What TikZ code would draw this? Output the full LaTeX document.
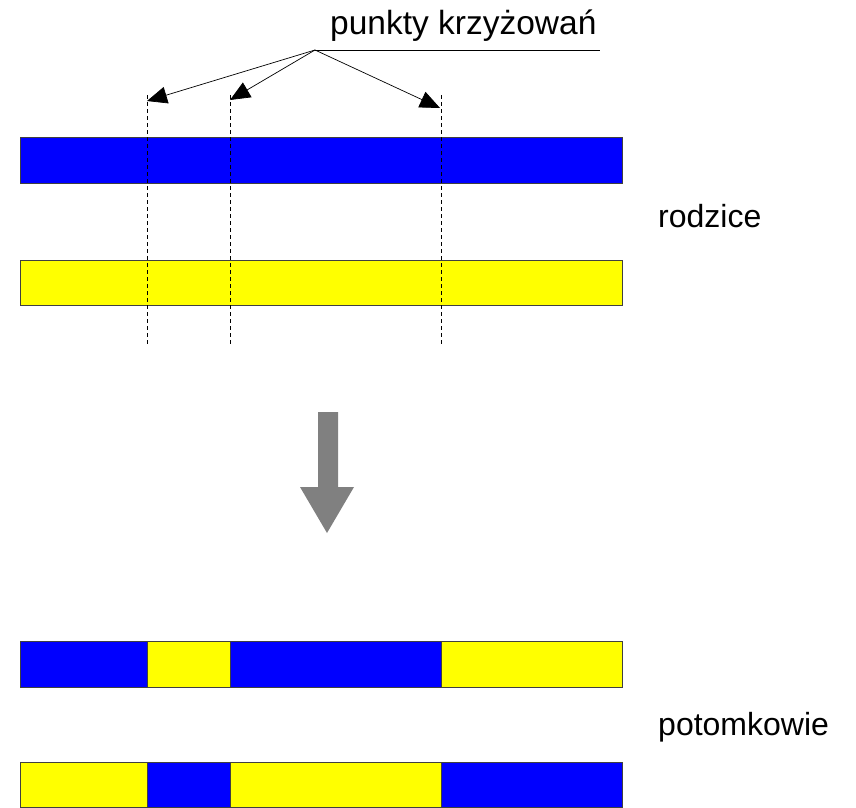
\documentclass[tikz,border=0pt]{standalone}
\usepackage{fontspec}
\setmainfont{Liberation Sans}
\usetikzlibrary{arrows.meta}
\definecolor{niebieski}{RGB}{0,0,255}
\definecolor{zolty}{RGB}{255,255,0}
\begin{document}
\begin{tikzpicture}[x=1pt, y=-1pt,
    pasek/.style={draw=black!75, line width=0.9pt},
    opis/.style={font=\fontsize{32}{36}\selectfont, inner sep=0pt, anchor=base west},
    ciecie/.style={dash pattern=on 4pt off 3pt, line width=0.7pt},
    grot/.style={-{Triangle[length=20pt, width=17pt]}, line width=0.7pt}]
    \useasboundingbox (0,0) rectangle (856,807);
    % Rodzice
    \filldraw[pasek, fill=niebieski] (20,137) rectangle (622,183);
    \filldraw[pasek, fill=zolty] (20,260) rectangle (622,305);
    \node[opis] (rodzice) at (658,227) {rodzice};
    % Linie cięcia
    \foreach \x in {147,230,441}
        \draw[ciecie] (\x,95) -- (\x,345);
    % Punkty krzyżowań
    \node[opis, font=\fontsize{33.5}{36}\selectfont] (punkty) at (330,34) {punkty krzyżowań};
    \coordinate (hub) at (315,50);
    \coordinate (p1) at (147,101);
    \coordinate (p2) at (230,100);
    \coordinate (p3) at (440,108);
    \draw[line width=0.7pt] (hub) -- (600,50);
    \foreach \n in {1,2,3}
        \draw[grot] (hub) -- (p\n);
    % Strzałka
    \fill[gray] (318,412) -- (338,412) -- (338,487) -- (354,487)
        -- (327,533) -- (300,487) -- (318,487) -- cycle;
    % Potomkowie
    \foreach \a/\b/\c/\d in {20/147/niebieski/zolty, 147/230/zolty/niebieski,
                             230/441/niebieski/zolty, 441/622/zolty/niebieski} {
        \filldraw[pasek, fill=\c] (\a,641) rectangle (\b,687);
        \filldraw[pasek, fill=\d] (\a,762) rectangle (\b,807);
    }
    \node[opis] (potomkowie) at (658,735) {potomkowie};
\end{tikzpicture}
\end{document}
